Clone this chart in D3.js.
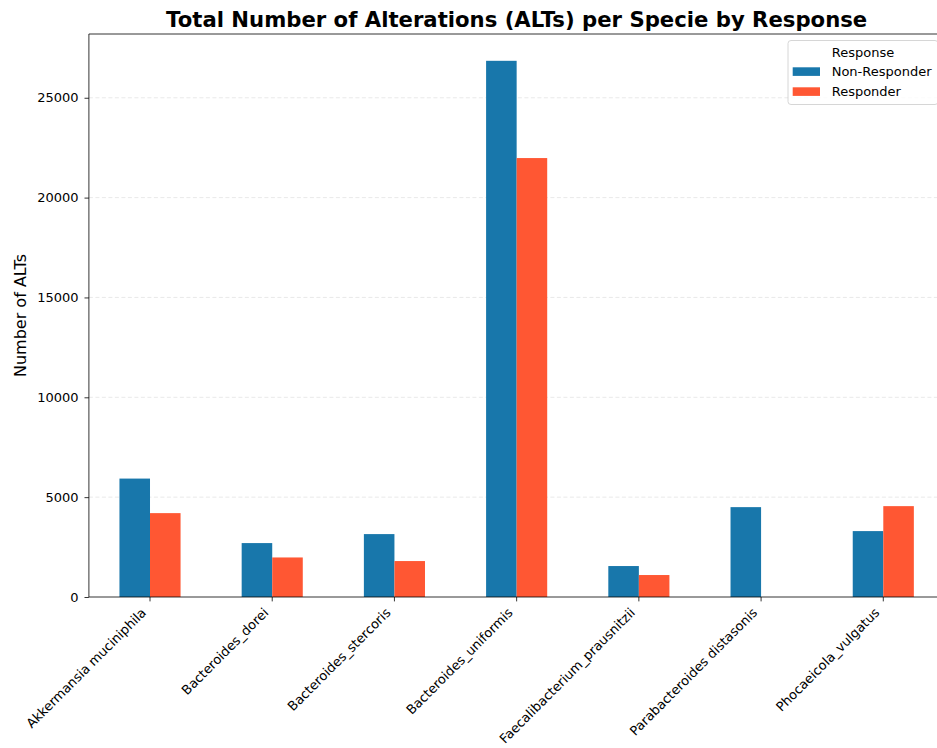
<!DOCTYPE html>
<html>
<head>
<meta charset="utf-8">
<script src="https://cdn.jsdelivr.net/npm/d3@7/dist/d3.min.js"></script>
<style>
  html, body { margin: 0; padding: 0; background: #ffffff; }
  svg { display: block; font-family: "DejaVu Sans", sans-serif; }
</style>
</head>
<body>
<svg id="chart" width="937" height="748"></svg>
<script>
// Species on the x axis
const categories = [
  "Akkermansia muciniphila",
  "Bacteroides_dorei",
  "Bacteroides_stercoris",
  "Bacteroides_uniformis",
  "Faecalibacterium_prausnitzii",
  "Parabacteroides distasonis",
  "Phocaeicola_vulgatus"
];
// Total ALTs per species, one array per response group
const nonResponder = [5930, 2700, 3150, 26850, 1550, 4500, 3300];
const responder    = [4200, 1980, 1800, 21980, 1100, 0, 4550];
const seriesNames  = ["Non-Responder", "Responder"];
const seriesColors = ["#1877ab", "#ff5733"];
const yTicks = [0, 5000, 10000, 15000, 20000, 25000];

const svg = d3.select("#chart");

const plot = { left: 88.9, right: 944.4, top: 34, bottom: 597 };
const tickFont = "13px";

const maxVal = d3.max([...nonResponder, ...responder]);
const y = d3.scaleLinear()
  .domain([0, maxVal * 1.05])
  .range([plot.bottom, plot.top]);

// categorical positions 0..n-1 with half-step padding on each side
const x = d3.scaleLinear()
  .domain([-0.5, categories.length - 0.5])
  .range([plot.left, plot.right]);

const barW = 0.25;

// dashed horizontal grid
svg.append("g")
  .selectAll("line")
  .data(yTicks.filter(t => t > 0))
  .join("line")
  .attr("x1", plot.left)
  .attr("x2", plot.right)
  .attr("y1", d => y(d))
  .attr("y2", d => y(d))
  .attr("stroke", "#e6e6e6")
  .attr("stroke-width", 0.9)
  .attr("stroke-dasharray", "4,2.5");

// bars
const series = [nonResponder, responder];
series.forEach((vals, si) => {
  svg.append("g")
    .selectAll("rect")
    .data(vals)
    .join("rect")
    .attr("x", (d, i) => x(i - barW + si * barW))
    .attr("width", x(barW) - x(0))
    .attr("y", d => y(d))
    .attr("height", d => y(0) - y(d))
    .attr("fill", seriesColors[si]);
});

// y axis
const yAxis = d3.axisLeft(y)
  .tickValues(yTicks)
  .tickFormat(d3.format("d"))
  .tickSize(4.4)
  .tickPadding(6);
const gy = svg.append("g")
  .attr("transform", `translate(${plot.left},0)`)
  .call(yAxis);
gy.select(".domain").remove();
gy.selectAll(".tick line").attr("stroke", "#000").attr("stroke-width", 0.8);
gy.selectAll(".tick text")
  .attr("font-size", tickFont)
  .attr("font-family", "DejaVu Sans")
  .attr("fill", "#000");

// x axis ticks and rotated labels
const gx = svg.append("g");
gx.selectAll("line")
  .data(categories)
  .join("line")
  .attr("x1", (d, i) => x(i))
  .attr("x2", (d, i) => x(i))
  .attr("y1", plot.bottom)
  .attr("y2", plot.bottom + 4.4)
  .attr("stroke", "#000")
  .attr("stroke-width", 0.8);
gx.selectAll("text")
  .data(categories)
  .join("text")
  .attr("transform", (d, i) => `translate(${x(i) - 3},${plot.bottom + 16.5}) rotate(-45)`)
  .attr("text-anchor", "end")
  .attr("font-size", tickFont)
  .attr("fill", "#000")
  .text(d => d);

// spines: left, top, bottom (right lies beyond the canvas)
svg.append("line")
  .attr("x1", plot.left).attr("x2", plot.left)
  .attr("y1", plot.top).attr("y2", plot.bottom)
  .attr("stroke", "#000").attr("stroke-width", 0.8);
svg.append("line")
  .attr("x1", plot.left).attr("x2", plot.right)
  .attr("y1", plot.bottom).attr("y2", plot.bottom)
  .attr("stroke", "#000").attr("stroke-width", 0.8);
svg.append("line")
  .attr("x1", plot.left).attr("x2", plot.right)
  .attr("y1", plot.top).attr("y2", plot.top)
  .attr("stroke", "#000").attr("stroke-width", 0.8);

// title
svg.append("text")
  .attr("x", (plot.left + plot.right) / 2)
  .attr("y", 26.5)
  .attr("text-anchor", "middle")
  .attr("font-size", "21.2px")
  .attr("font-weight", "bold")
  .attr("fill", "#000")
  .text("Total Number of Alterations (ALTs) per Specie by Response");

// y label
svg.append("text")
  .attr("transform", `translate(26,${(plot.top + plot.bottom) / 2}) rotate(-90)`)
  .attr("text-anchor", "middle")
  .attr("font-size", "16px")
  .attr("fill", "#000")
  .text("Number of ALTs");

// legend
const lg = svg.append("g").attr("transform", "translate(788,40.5)");
lg.append("rect")
  .attr("x", 0).attr("y", 0)
  .attr("width", 150).attr("height", 64)
  .attr("rx", 3)
  .attr("fill", "#fff").attr("fill-opacity", 0.8)
  .attr("stroke", "#cccccc").attr("stroke-width", 0.8);
lg.append("text")
  .attr("x", 75).attr("y", 16.5)
  .attr("text-anchor", "middle")
  .attr("font-size", tickFont)
  .attr("fill", "#000")
  .text("Response");
seriesNames.forEach((name, i) => {
  lg.append("rect")
    .attr("x", 4.7).attr("y", 26.8 + i * 20)
    .attr("width", 27.3).attr("height", 8.6)
    .attr("fill", seriesColors[i]);
  lg.append("text")
    .attr("x", 43.7).attr("y", 35.8 + i * 20)
    .attr("font-size", tickFont)
    .attr("fill", "#000")
    .text(name);
});
</script>
</body>
</html>
